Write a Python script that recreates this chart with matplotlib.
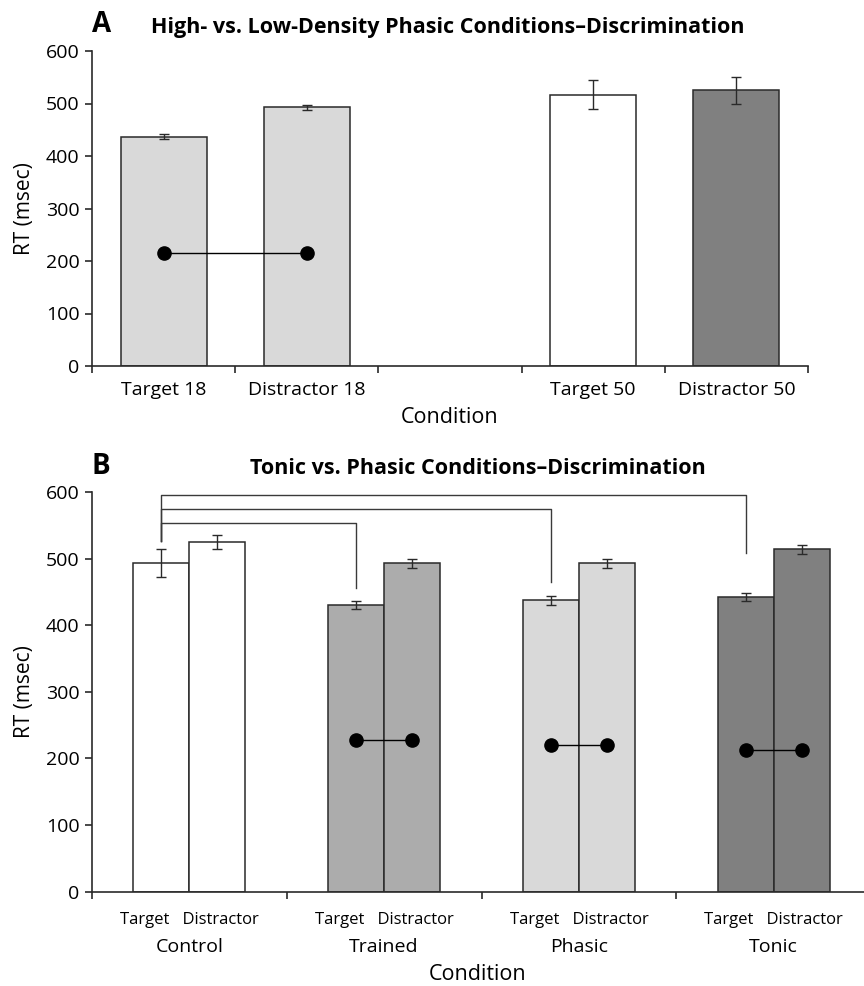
import numpy as np
import matplotlib
matplotlib.use('Agg')
from matplotlib import pyplot as plt
from matplotlib.transforms import blended_transform_factory

plt.rcParams['font.family'] = ['Open Sans', 'DejaVu Sans']

# panel A data
a_labels = ['Target 18', 'Distractor 18', '', 'Target 50', 'Distractor 50']
a_means = [437, 493, np.nan, 517, 525]
a_errs = [5, 5, np.nan, 28, 26]
a_colors = ['#d9d9d9', '#d9d9d9', 'white', 'white', '#808080']
a_dot_y = 215

# panel B data
b_groups = ['Control', 'Trained', 'Phasic', 'Tonic']
b_target = [493, 430, 437, 442]
b_target_err = [21, 6, 6.5, 6]
b_distr = [525, 493, 493, 514]
b_distr_err = [10, 7, 7, 7]
b_colors = ['white', '#acacac', '#d9d9d9', '#808080']
b_dots = [np.nan, 228, 220, 213]
# comparison brackets from Control target
br_levels = [553, 574, 595]
br_ends = [456, 465, 508]
br_start = 527

edge = '#2a2a2a'

fig = plt.figure(figsize=(8.64, 9.86), dpi=100)

def style(ax):
    for s in ['top', 'right']:
        ax.spines[s].set_visible(False)
    for s in ['left', 'bottom']:
        ax.spines[s].set_color(edge)
        ax.spines[s].set_linewidth(1.2)
    ax.set_ylim(0, 600)
    ax.set_yticks(range(0, 601, 100))
    ax.tick_params(axis='y', labelsize=14, length=5, color=edge, width=1.2, pad=4)

# ---- A ----
ax1 = fig.add_axes([92/864, 1-366/986, (808-92)/864, 315/986])
xa = np.arange(len(a_labels)) + 0.5
ax1.bar(xa, a_means, width=0.6, color=a_colors, edgecolor=edge, linewidth=1.1)
ax1.errorbar(xa, a_means, yerr=a_errs, fmt='none', ecolor=edge, elinewidth=1, capsize=3.5, capthick=1)
ax1.plot(xa[:2], [a_dot_y, a_dot_y], color='black', lw=1, marker='o', ms=9.5)
ax1.set_xlim(0, 5)
ax1.set_xticks(range(6))
ax1.set_xticklabels([])
ax1.tick_params(axis='x', length=5, color=edge, width=1.2, direction='out')
style(ax1)
ta = blended_transform_factory(ax1.transData, ax1.transAxes)
for x, lab in zip(xa, a_labels):
    ax1.text(x, -0.076, lab, transform=ta, ha='center', va='center', fontsize=14)
ax1.text(2.5, -0.165, 'Condition', transform=ta, ha='center', va='center', fontsize=15.5)
ax1.set_ylabel('RT (msec)', fontsize=15)
ax1.yaxis.set_label_coords((35-92)/716, 0.5)
fig.text(448/864, 1-27/986, 'High- vs. Low-Density Phasic Conditions\u2013Discrimination',
         fontsize=15.5, fontweight='bold', ha='center', va='center')
fig.text(92/864, 1-25/986, 'A', fontsize=20, fontweight='bold', va='center')

# ---- B ----
ax2 = fig.add_axes([92/864, 1-891.6/986, (871-92)/864, 399.7/986])
gx = np.arange(len(b_groups)) + 0.5
off, w = 0.144, 0.287
xt = gx - off
xd = gx + off
ax2.bar(xt, b_target, width=w, color=b_colors, edgecolor=edge, linewidth=1.1)
ax2.bar(xd, b_distr, width=w, color=b_colors, edgecolor=edge, linewidth=1.1)
ax2.errorbar(xt, b_target, yerr=b_target_err, fmt='none', ecolor=edge, elinewidth=1, capsize=3.5, capthick=1)
ax2.errorbar(xd, b_distr, yerr=b_distr_err, fmt='none', ecolor=edge, elinewidth=1, capsize=3.5, capthick=1)
for i in range(len(b_groups)):
    if not np.isnan(b_dots[i]):
        ax2.plot([xt[i], xd[i]], [b_dots[i], b_dots[i]], color='black', lw=1, marker='o', ms=9.5)

for j, (lev, end) in enumerate(zip(br_levels, br_ends)):
    ax2.plot([xt[0], xt[0], xt[j + 1], xt[j + 1]], [br_start, lev, lev, end],
             color='#3a3a3a', lw=1, clip_on=False)

ax2.set_xlim(0, 4)
ax2.set_xticks(range(5))
ax2.set_xticklabels([])
ax2.tick_params(axis='x', length=5, color=edge, width=1.2, direction='out')
style(ax2)
tb = blended_transform_factory(ax2.transData, ax2.transAxes)
for i, name in enumerate(b_groups):
    ax2.text(gx[i], -0.0706, 'Target   Distractor', transform=tb, ha='center', va='center', fontsize=12)
    ax2.text(gx[i], -0.1376, name, transform=tb, ha='center', va='center', fontsize=14)
fig.text(478/864, 1-975/986, 'Condition', fontsize=15.5, ha='center', va='center')
ax2.set_ylabel('RT (msec)', fontsize=15)
ax2.yaxis.set_label_coords((35-92)/779, 0.5)
fig.text(478/864, 1-468/986, 'Tonic vs. Phasic Conditions\u2013Discrimination',
         fontsize=15.5, fontweight='bold', ha='center', va='center')
fig.text(92/864, 1-466/986, 'B', fontsize=20, fontweight='bold', va='center')

plt.savefig('out.png', dpi=100)
